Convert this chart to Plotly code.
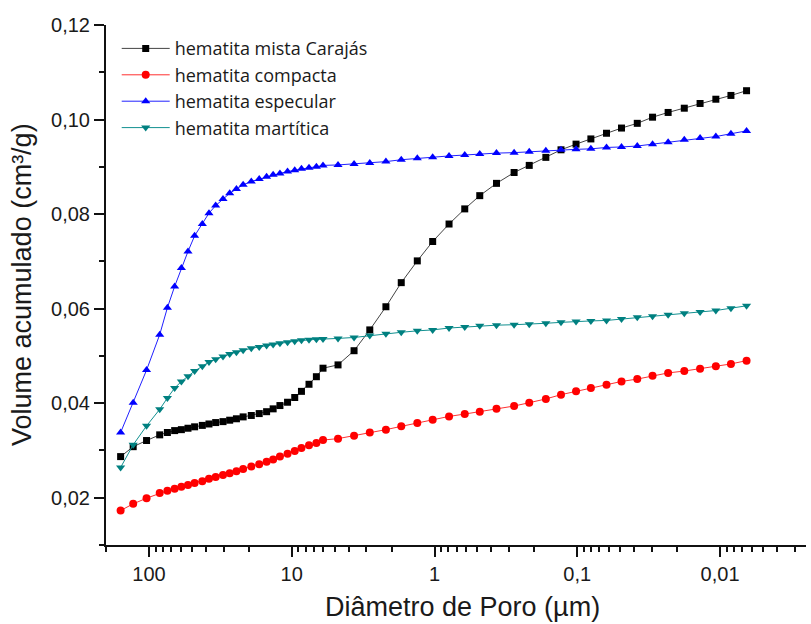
import math
import plotly.graph_objects as go

# Diâmetro de poro (µm) - mesmos pontos de pressão para as quatro amostras
diametro_um = [
    158, 129, 104, 84.1, 74.3, 66.1, 59.3, 53.3, 47.9, 42.3,
    38.0, 34.1, 30.3, 27.2, 24.4, 21.9, 19.2, 16.9, 15.0, 13.5,
    12.1, 10.7, 9.53, 8.55, 7.57, 6.72, 6.04, 4.74, 3.66, 2.84,
    2.19, 1.71, 1.32, 1.03, 0.791, 0.614, 0.482, 0.368, 0.277, 0.217,
    0.166, 0.130, 0.102, 0.0803, 0.0624, 0.0490, 0.0380, 0.0297, 0.0231, 0.0178,
    0.0138, 0.0107, 0.00839, 0.00652,
]

# Volume acumulado de intrusão (cm³/g)
vol_mista_carajas = [
    0.0287, 0.0308, 0.0321, 0.0333, 0.0338, 0.0342, 0.0344, 0.0347, 0.0350, 0.0353,
    0.0356, 0.0359, 0.0361, 0.0364, 0.0367, 0.0371, 0.0374, 0.0378, 0.0382, 0.0388,
    0.0395, 0.0402, 0.0412, 0.0425, 0.0440, 0.0456, 0.0474, 0.0481, 0.0511, 0.0555,
    0.0604, 0.0655, 0.0701, 0.0742, 0.0779, 0.0811, 0.0839, 0.0865, 0.0888, 0.0903,
    0.0920, 0.0936, 0.0948, 0.0959, 0.0971, 0.0982, 0.0992, 0.1005, 0.1015, 0.1024,
    0.1034, 0.1043, 0.1051, 0.1061,
]
vol_compacta = [
    0.0173, 0.0187, 0.0199, 0.0210, 0.0215, 0.0219, 0.0223, 0.0227, 0.0231, 0.0235,
    0.0240, 0.0244, 0.0248, 0.0252, 0.0256, 0.0261, 0.0266, 0.0271, 0.0276, 0.0281,
    0.0287, 0.0293, 0.0299, 0.0305, 0.0311, 0.0316, 0.0322, 0.0325, 0.0331, 0.0338,
    0.0344, 0.0351, 0.0358, 0.0365, 0.0372, 0.0377, 0.0382, 0.0388, 0.0394, 0.0401,
    0.0409, 0.0418, 0.0425, 0.0432, 0.0439, 0.0446, 0.0451, 0.0458, 0.0464, 0.0468,
    0.0473, 0.0478, 0.0483, 0.0490,
]
vol_especular = [
    0.0338, 0.0401, 0.0470, 0.0545, 0.0602, 0.0647, 0.0686, 0.0721, 0.0754, 0.0779,
    0.0802, 0.0818, 0.0832, 0.0844, 0.0853, 0.0862, 0.0869, 0.0874, 0.0879, 0.0883,
    0.0886, 0.0890, 0.0893, 0.0896, 0.0898, 0.0900, 0.0903, 0.0904, 0.0906, 0.0908,
    0.0911, 0.0915, 0.0918, 0.0920, 0.0923, 0.0925, 0.0927, 0.0929, 0.0930, 0.0932,
    0.0934, 0.0936, 0.0937, 0.0938, 0.0941, 0.0942, 0.0944, 0.0948, 0.0952, 0.0957,
    0.0961, 0.0964, 0.0970, 0.0976,
]
vol_martitica = [
    0.0264, 0.0312, 0.0352, 0.0387, 0.0411, 0.0432, 0.0446, 0.0457, 0.0468, 0.0478,
    0.0487, 0.0493, 0.0499, 0.0504, 0.0508, 0.0512, 0.0516, 0.0519, 0.0522, 0.0524,
    0.0527, 0.0529, 0.0531, 0.0533, 0.0534, 0.0535, 0.0536, 0.0537, 0.0539, 0.0543,
    0.0547, 0.0550, 0.0553, 0.0555, 0.0559, 0.0561, 0.0564, 0.0565, 0.0566, 0.0567,
    0.0569, 0.0571, 0.0573, 0.0574, 0.0575, 0.0578, 0.0582, 0.0584, 0.0587, 0.0590,
    0.0593, 0.0596, 0.0601, 0.0606,
]

nomes = ["hematita mista Carajás", "hematita compacta",
         "hematita especular", "hematita martítica"]
volumes = [vol_mista_carajas, vol_compacta, vol_especular, vol_martitica]

estilos = [
    dict(marker="#000000", linha="#444444", simbolo="square", tam=7),
    dict(marker="#ff0000", linha="#ff3030", simbolo="circle", tam=8),
    dict(marker="#0000ff", linha="#2020ff", simbolo="triangle-up", tam=8),
    dict(marker="#008080", linha="#119090", simbolo="triangle-down", tam=8),
]

# Eixo x em escala log, invertido (poros maiores à esquerda)
x_ticks = [100, 10, 1, 0.1, 0.01]
x_ticktext = ["100", "10", "1", "0,1", "0,01"]
x_minor = [m * 10.0 ** e for e in range(-3, 3) for m in range(2, 10)]
x_range = [math.log10(200), math.log10(0.0025)]

fonte_eixo = "Liberation Sans, Arial, sans-serif"
cor_texto = "#1a1a1a"

fig = go.Figure()
for nome, vol, est in zip(nomes, volumes, estilos):
    fig.add_trace(go.Scatter(
        x=diametro_um, y=vol, name=nome, mode="lines+markers",
        line=dict(color=est["linha"], width=1),
        marker=dict(symbol=est["simbolo"], size=est["tam"], color=est["marker"],
                    line=dict(width=0)),
    ))

fig.update_layout(
    width=811, height=624,
    margin=dict(l=106, r=5, t=25, b=79),
    paper_bgcolor="white", plot_bgcolor="white",
    separators=",.",
    showlegend=True,
    legend=dict(
        x=0.0153, y=0.99, xanchor="left", yanchor="top",
        xref="paper", yref="paper",
        bgcolor="rgba(0,0,0,0)", borderwidth=0,
        itemwidth=48,
        font=dict(family="Open Sans, sans-serif", size=18, color=cor_texto),
        tracegroupgap=0,
    ),
    font=dict(family=fonte_eixo, color=cor_texto),
)

fig.update_xaxes(
    type="log", range=x_range,
    tickmode="array", tickvals=x_ticks, ticktext=x_ticktext,
    ticks="outside", ticklen=10, tickwidth=1.5, tickcolor="#111",
    showline=True, linecolor="#111", linewidth=2, mirror=False,
    showgrid=False, zeroline=False,
    tickfont=dict(family=fonte_eixo, size=20, color=cor_texto),
    minor=dict(tickmode="array", tickvals=x_minor, ticks="outside",
               ticklen=5, tickwidth=1.5, tickcolor="#111", showgrid=False),
)

fig.update_yaxes(
    range=[0.01, 0.12],
    tick0=0, dtick=0.02, tickformat=".2f",
    ticks="outside", ticklen=10, tickwidth=1.5, tickcolor="#111",
    showline=True, linecolor="#111", linewidth=2, mirror=False,
    showgrid=False, zeroline=False,
    tickfont=dict(family=fonte_eixo, size=20, color=cor_texto),
    minor=dict(tick0=0, dtick=0.01, ticks="outside",
               ticklen=5, tickwidth=1.5, tickcolor="#111", showgrid=False),
)

fig.add_annotation(
    text="Volume acumulado (cm³/g)", textangle=-90,
    xref="paper", yref="paper", x=-0.12, y=0.5,
    xanchor="center", yanchor="middle", showarrow=False,
    font=dict(family=fonte_eixo, size=27, color=cor_texto),
)
fig.add_annotation(
    text="Diâmetro de Poro (µm)",
    xref="paper", yref="paper", x=0.509, y=-0.119,
    xanchor="center", yanchor="middle", showarrow=False,
    font=dict(family=fonte_eixo, size=27, color=cor_texto),
)

fig.write_html("out.html")
